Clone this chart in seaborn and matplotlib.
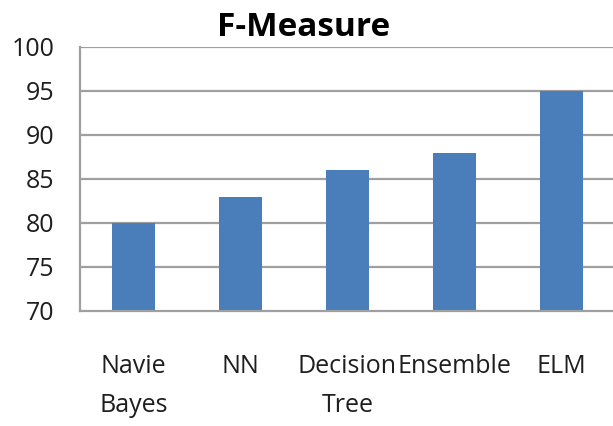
import matplotlib
matplotlib.use("Agg")
import matplotlib.pyplot as plt
import seaborn as sns
import pandas as pd

categories = ["Navie\nBayes", "NN", "Decision\nTree", "Ensemble", "ELM"]
f_measure = [80, 83, 86, 88, 95]
y_ticks = [70, 75, 80, 85, 90, 95, 100]

sns.set_style("white")
plt.rcParams["font.family"] = ["Open Sans", "DejaVu Sans"]

df = pd.DataFrame({"model": categories, "score": f_measure})

W, H = 613, 426
fig = plt.figure(figsize=(W / 100, H / 100), dpi=100)
ax = fig.add_axes([80 / W, 1 - 311 / H, (615 - 80) / W, 264 / H])

grid_color = "#9f9f9f"
ax.set_axisbelow(True)
for y in y_ticks[1:]:
    ax.axhline(y, color=grid_color, lw=1.6, zorder=0)

sns.barplot(data=df, x="model", y="score", color="#4A7EBB", width=0.4,
            saturation=1, linewidth=0, ax=ax, zorder=2)

ax.set_ylim(70, 100)
ax.set_xlim(-0.5, 4.5)
ax.set_yticks(y_ticks)
ax.set_xlabel("")
ax.set_ylabel("")

for side in ["top", "right"]:
    ax.spines[side].set_visible(False)
for side in ["left", "bottom"]:
    ax.spines[side].set_color(grid_color)
    ax.spines[side].set_linewidth(1.6)

ax.tick_params(axis="y", direction="out", length=7.5, width=1.6, color=grid_color,
               labelsize=18, pad=11, labelcolor="#1e1e1e")
ax.tick_params(axis="x", length=0, labelsize=18, pad=31, labelcolor="#1e1e1e")
for lbl in ax.get_xticklabels():
    lbl.set_linespacing(1.75)

fig.text(304 / W, 1 - 28 / H, "F-Measure", ha="center", va="center",
         fontsize=24, fontweight="bold", color="#000000")

fig.savefig("out.png", dpi=100)
